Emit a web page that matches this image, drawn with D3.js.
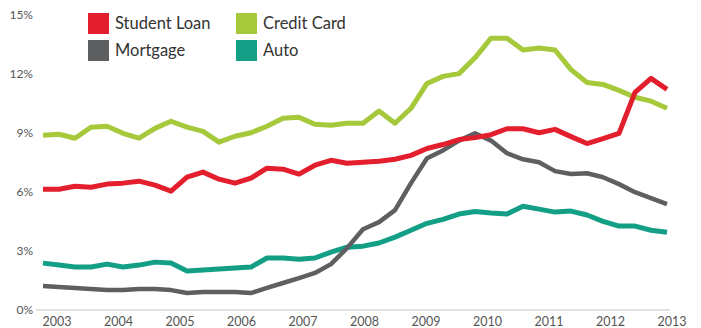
<!DOCTYPE html>
<html><head><meta charset="utf-8">
<script src="https://cdn.jsdelivr.net/npm/d3@7"></script>
<style>
html,body{margin:0;padding:0;background:#fff;}
svg{display:block;font-family:Lato,"Open Sans",sans-serif;}
</style></head><body>
<svg id="chart" width="701" height="328"></svg>
<script>
// Quarterly data 2003Q1 .. 2012Q4 (% of balance 90+ days delinquent)
const quarters = d3.range(40).map(i => 2003 + Math.floor(i/4) + "Q" + (i%4+1));
const studentLoan = [6.13,6.13,6.28,6.23,6.39,6.44,6.54,6.34,6.03,6.74,7.0,6.64,6.44,6.69,7.2,7.15,6.9,7.35,7.6,7.45,7.5,7.55,7.65,7.85,8.2,8.4,8.65,8.75,8.9,9.2,9.2,9.0,9.17,8.8,8.45,8.7,8.97,11.05,11.76,11.2];
const mortgage = [1.22,1.17,1.12,1.06,1.01,1.01,1.06,1.06,1.01,0.86,0.91,0.91,0.91,0.86,1.12,1.37,1.62,1.88,2.33,3.14,4.1,4.46,5.07,6.44,7.7,8.1,8.6,8.97,8.6,7.96,7.65,7.5,7.05,6.9,6.94,6.74,6.39,5.98,5.68,5.37];
const creditCard = [8.87,8.92,8.72,9.28,9.33,8.97,8.72,9.22,9.58,9.28,9.07,8.52,8.82,9.0,9.33,9.73,9.78,9.43,9.38,9.48,9.48,10.1,9.48,10.24,11.5,11.86,12.0,12.8,13.8,13.8,13.2,13.3,13.2,12.2,11.55,11.45,11.15,10.8,10.6,10.24];
const auto = [2.38,2.28,2.18,2.18,2.33,2.18,2.28,2.43,2.38,1.98,2.03,2.08,2.13,2.18,2.64,2.64,2.58,2.64,2.94,3.19,3.24,3.4,3.7,4.05,4.4,4.6,4.87,5.0,4.92,4.87,5.27,5.12,4.97,5.02,4.82,4.5,4.26,4.26,4.05,3.95];
const yTicks = [0,3,6,9,12,15];
const xTickYears = [2003,2004,2005,2006,2007,2008,2009,2010,2011,2012,2013];
const seriesNames = ["Student Loan","Mortgage","Credit Card","Auto"];

const colors = {"Student Loan":"#e41f2d","Mortgage":"#5e5f61","Credit Card":"#a5c93b","Auto":"#129f86"};
const widths = {"Student Loan":5,"Mortgage":4.5,"Credit Card":5,"Auto":5};
const seriesData = {"Student Loan":studentLoan,"Mortgage":mortgage,"Credit Card":creditCard,"Auto":auto};

const svg = d3.select("#chart");
const x = d3.scaleLinear().domain([0,39]).range([43,667]);
const xLab = d3.scaleLinear().domain([2003,2013]).range([57,672]);
const y = d3.scaleLinear().domain([0,15]).range([310,14.5]);

// baseline
svg.append("line").attr("x1",36).attr("x2",670).attr("y1",y(0)).attr("y2",y(0))
  .attr("stroke","#c4c4c4").attr("stroke-width",1);

// y tick labels
svg.append("g").selectAll("text").data(yTicks).join("text")
  .attr("x",33).attr("y",d=>y(d)).attr("dy","0.35em")
  .attr("text-anchor","end").attr("font-size",12).attr("fill","#555")
  .text(d=>d+"%");

// x tick labels
svg.append("g").selectAll("text").data(xTickYears).join("text")
  .attr("x",d=>xLab(d)).attr("y",322).attr("dy","0.35em")
  .attr("text-anchor","middle").attr("font-size",12.5).attr("fill","#555")
  .text(d=>d);

const line = d3.line().x((d,i)=>x(i)).y(d=>y(d)).curve(d3.curveLinear);
const drawOrder = ["Credit Card","Auto","Mortgage","Student Loan"];
svg.append("g").selectAll("path").data(drawOrder).join("path")
  .attr("d",k=>line(seriesData[k]))
  .attr("fill","none").attr("stroke",k=>colors[k]).attr("stroke-width",k=>widths[k])
  .attr("stroke-linejoin","round").attr("stroke-linecap","butt");

// legend
const legPos = [[88,13],[88,40],[236,13],[236,40]];
const leg = svg.append("g").selectAll("g").data(seriesNames).join("g")
  .attr("transform",(d,i)=>`translate(${legPos[i][0]},${legPos[i][1]})`);
leg.append("rect").attr("width",21).attr("height",21).attr("fill",d=>colors[d]);
leg.append("text").attr("x",27).attr("y",10.5).attr("dy","0.35em")
  .attr("font-size",16.5).attr("fill","#333").text(d=>d);
</script>
</body></html>
